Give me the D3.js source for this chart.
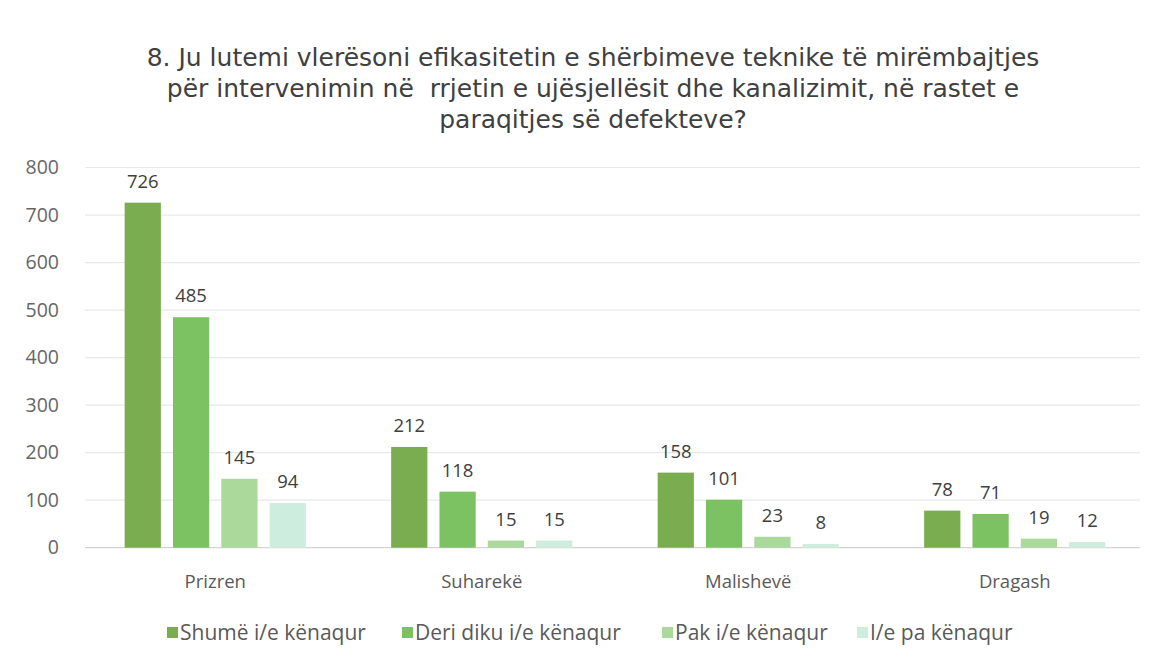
<!DOCTYPE html>
<html><head><meta charset="utf-8">
<script src="https://cdn.jsdelivr.net/npm/d3@7"></script>
<style>body{margin:0;background:#fff}svg{display:block}</style>
</head><body><svg id="c" width="1164" height="664"></svg>
<script>
const titleLines = ["8. Ju lutemi vlerësoni efikasitetin e shërbimeve teknike të mirëmbajtjes",
  "për intervenimin në  rrjetin e ujësjellësit dhe kanalizimit, në rastet e",
  "paraqitjes së defekteve?"];
const categories = ["Prizren", "Suharekë", "Malishevë", "Dragash"];
const seriesNames = ["Shumë i/e kënaqur", "Deri diku i/e kënaqur", "Pak i/e kënaqur", "I/e pa kënaqur"];
const shume = [726, 212, 158, 78];
const deriDiku = [485, 118, 101, 71];
const pak = [145, 15, 23, 19];
const paKenaqur = [94, 15, 8, 12];
const yTicks = [0, 100, 200, 300, 400, 500, 600, 700, 800];
const colors = ["#7aad4f", "#7dc262", "#aad99b", "#cdeedf"];

(function(){
const series = [shume, deriDiku, pak, paKenaqur];
const svg = d3.select("#c");
const font = "'Open Sans', sans-serif";

svg.append("g").selectAll("text").data(titleLines).join("text")
  .attr("x", 593).attr("y", (d,i)=>66 + i*31)
  .attr("text-anchor","middle").attr("font-family","'DejaVu Sans', sans-serif").attr("font-size",25)
  .attr("fill","#404040").style("white-space","pre").text(d=>d);

const pL = 82, pR = 1148, pT = 167.5, pB = 547.7;
const y = d3.scaleLinear().domain([0,800]).range([pB, pT]);
const x0 = d3.scaleBand().domain(categories).range([pL,pR]).paddingInner(0.32).paddingOuter(0.16);
const x1 = d3.scaleBand().domain(d3.range(4)).range([0,x0.bandwidth()]).paddingInner(0.25);

svg.append("g").selectAll("line").data(yTicks).join("line")
  .attr("x1",85).attr("x2",1140).attr("y1",d=>y(d)).attr("y2",d=>y(d))
  .attr("stroke",d=>d===0?"#d4d4d4":"#e8e8e8").attr("stroke-width",1.2);

const yAxis = d3.axisLeft(y).tickValues(yTicks).tickSize(0).tickPadding(0);
const ya = svg.append("g").attr("transform","translate(59,0)").call(yAxis);
ya.select(".domain").remove();
ya.selectAll("text").attr("font-family",font).attr("font-size",19.5).attr("fill","#666");

const groups = svg.append("g").selectAll("g").data(categories).join("g")
  .attr("transform",d=>`translate(${x0(d)},0)`);
groups.selectAll("rect").data((d,ci)=>series.map((s,si)=>({si,v:s[ci]}))).join("rect")
  .attr("x",d=>x1(d.si)).attr("width",x1.bandwidth())
  .attr("y",d=>y(d.v)).attr("height",d=>pB-y(d.v))
  .attr("fill",d=>colors[d.si]);
groups.selectAll("text").data((d,ci)=>series.map((s,si)=>({si,v:s[ci]}))).join("text")
  .attr("x",d=>x1(d.si)+x1.bandwidth()/2).attr("y",d=>y(d.v)-15)
  .attr("text-anchor","middle").attr("font-family",font).attr("font-size",18.5)
  .attr("fill","#404040").text(d=>d.v);

const xAxis = d3.axisBottom(x0).tickSize(0).tickPadding(0);
const xa = svg.append("g").attr("transform",`translate(0,${pB+27})`).call(xAxis);
xa.select(".domain").remove();
xa.selectAll("text").attr("font-family",font).attr("font-size",18.5).attr("fill","#595959");

const legX = [167, 402, 662, 857];
const lg = svg.append("g").selectAll("g").data(seriesNames).join("g")
  .attr("transform",(d,i)=>`translate(${legX[i]},633)`);
lg.append("rect").attr("x",0).attr("y",-6).attr("width",11).attr("height",11).attr("fill",(d,i)=>colors[i]);
lg.append("text").attr("x",13).attr("y",7).attr("font-family",font).attr("font-size",21)
  .attr("fill","#595959").text(d=>d);
})();
</script></body></html>
